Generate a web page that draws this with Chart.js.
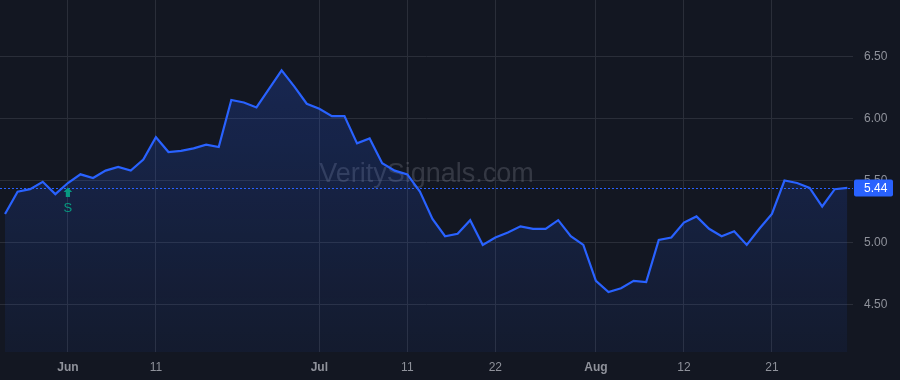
<!DOCTYPE html>
<html lang="en">
<head>
    <meta charset="UTF-8">
    <title>VeritySignals Price Chart</title>
    <script src="https://cdn.jsdelivr.net/npm/chart.js"></script>
    <style>
        body { margin: 0; background: #131722; }
        #wrap { width: 900px; height: 380px; position: relative; }
    </style>
</head>
<body>
    <div id="wrap">
        <canvas id="priceChart"></canvas>
    </div>

    <script>
        // Closing prices, one per trading day
        const closes = [
            5.23, 5.41, 5.43, 5.49, 5.39, 5.48, 5.55, 5.52, 5.58, 5.61,
            5.58, 5.67, 5.85, 5.73, 5.74, 5.76, 5.79, 5.77, 6.15, 6.13,
            6.09, 6.24, 6.39, 6.26, 6.12, 6.08, 6.02, 6.02, 5.80, 5.84,
            5.64, 5.58, 5.55, 5.41, 5.19, 5.05, 5.07, 5.18, 4.98, 5.04,
            5.08, 5.13, 5.11, 5.11, 5.18, 5.05, 4.98, 4.69, 4.60, 4.63,
            4.69, 4.68, 5.02, 5.04, 5.16, 5.21, 5.11, 5.05, 5.09, 4.98,
            5.11, 5.23, 5.50, 5.48, 5.44, 5.29, 5.43, 5.44
        ];

        // Bottom axis labels and the day index they sit on
        const tickIdx = [5, 12, 25, 32, 39, 47, 54, 61];
        const tickText = ['Jun', '11', 'Jul', '11', '22', 'Aug', '12', '21'];
        const monthLabels = ['Jun', 'Jul', 'Aug'];

        // Right axis price levels
        const priceTicks = [4.5, 5.0, 5.5, 6.0, 6.5];

        const lastPrice = 5.44;
        const signalIdx = 5;
        const signalText = 'S';
        const watermark = 'VeritySignals.com';

        const blue = '#2962ff';
        const teal = '#089981';
        const gridColor = '#2a2e39';
        const labelColor = '#8f929b';
        const fontFamily = '"Liberation Sans", Arial, sans-serif';

        const points = closes.map((v, i) => ({ x: i, y: v }));

        const overlay = {
            id: 'overlay',
            beforeDatasetsDraw(chart) {
                const { ctx, chartArea, scales } = chart;
                ctx.save();
                // watermark
                ctx.font = '27px ' + fontFamily;
                ctx.fillStyle = 'rgba(120, 124, 136, 0.33)';
                ctx.textAlign = 'center';
                ctx.textBaseline = 'alphabetic';
                ctx.fillText(watermark, (chartArea.left + chartArea.right) / 2, 181.5);
                // last price dotted line
                const y = Math.round(scales.y.getPixelForValue(lastPrice)) + 0.5;
                ctx.strokeStyle = blue;
                ctx.lineWidth = 1;
                ctx.setLineDash([2, 2]);
                ctx.beginPath();
                ctx.moveTo(chartArea.left, y);
                ctx.lineTo(chartArea.right, y);
                ctx.stroke();
                ctx.restore();
            },
            afterDatasetsDraw(chart) {
                const { ctx, scales } = chart;
                const x = scales.x.getPixelForValue(signalIdx);
                const y = scales.y.getPixelForValue(closes[signalIdx]);
                ctx.save();
                ctx.fillStyle = teal;
                // up arrow
                ctx.beginPath();
                ctx.moveTo(x, y + 4.5);
                ctx.lineTo(x + 4.3, y + 9);
                ctx.lineTo(x + 2.1, y + 9);
                ctx.lineTo(x + 2.1, y + 14);
                ctx.lineTo(x - 2.1, y + 14);
                ctx.lineTo(x - 2.1, y + 9);
                ctx.lineTo(x - 4.3, y + 9);
                ctx.closePath();
                ctx.fill();
                ctx.font = '13px ' + fontFamily;
                ctx.textAlign = 'center';
                ctx.textBaseline = 'middle';
                ctx.fillText(signalText, x, y + 25);
                ctx.restore();
            },
            afterDraw(chart) {
                const { ctx, chartArea, scales } = chart;
                const y = scales.y.getPixelForValue(lastPrice);
                ctx.save();
                ctx.fillStyle = blue;
                ctx.beginPath();
                ctx.roundRect(chartArea.right + 1, y - 8.5, 39, 17, 2);
                ctx.fill();
                ctx.fillStyle = '#ffffff';
                ctx.font = '12px ' + fontFamily;
                ctx.textAlign = 'left';
                ctx.textBaseline = 'middle';
                ctx.fillText(lastPrice.toFixed(2), chartArea.right + 11, y + 0.5);
                ctx.restore();
            }
        };

        new Chart(document.getElementById('priceChart'), {
            type: 'line',
            data: {
                datasets: [{
                    data: points,
                    borderColor: blue,
                    borderWidth: 2.2,
                    pointRadius: 0,
                    tension: 0,
                    fill: 'start',
                    backgroundColor: (context) => {
                        const { ctx, chartArea } = context.chart;
                        if (!chartArea) return 'rgba(41, 98, 255, 0.15)';
                        const g = ctx.createLinearGradient(0, chartArea.top, 0, chartArea.bottom);
                        g.addColorStop(0, 'rgba(41, 98, 255, 0.25)');
                        g.addColorStop(1, 'rgba(41, 98, 255, 0.06)');
                        return g;
                    }
                }]
            },
            options: {
                responsive: true,
                maintainAspectRatio: false,
                animation: false,
                layout: { padding: 0 },
                plugins: {
                    legend: { display: false },
                    tooltip: { enabled: false }
                },
                scales: {
                    x: {
                        type: 'linear',
                        min: -0.4,
                        max: 67.45,
                        afterBuildTicks: (scale) => {
                            scale.ticks = tickIdx.map(v => ({ value: v }));
                        },
                        afterFit: (scale) => {
                            scale.height = 28;
                            scale.paddingLeft = 0;
                            scale.paddingRight = 0;
                        },
                        grid: { color: gridColor, drawTicks: false },
                        border: { display: false },
                        ticks: {
                            autoSkip: false,
                            maxRotation: 0,
                            padding: 8,
                            color: labelColor,
                            font: (ctx) => ({
                                family: fontFamily,
                                size: 12,
                                weight: monthLabels.includes(tickText[ctx.index]) ? 'bold' : 'normal'
                            }),
                            callback: (v) => tickText[tickIdx.indexOf(v)]
                        }
                    },
                    y: {
                        position: 'right',
                        min: 4.115,
                        max: 6.958,
                        afterBuildTicks: (scale) => {
                            scale.ticks = priceTicks.map(v => ({ value: v }));
                        },
                        afterFit: (scale) => {
                            scale.width = 47;
                            scale.paddingTop = 0;
                            scale.paddingBottom = 0;
                        },
                        grid: { color: gridColor, drawTicks: false },
                        border: { display: false },
                        ticks: {
                            padding: 11,
                            color: labelColor,
                            font: { family: fontFamily, size: 12 },
                            callback: (v) => v.toFixed(2)
                        }
                    }
                }
            },
            plugins: [overlay]
        });
    </script>
</body>
</html>
